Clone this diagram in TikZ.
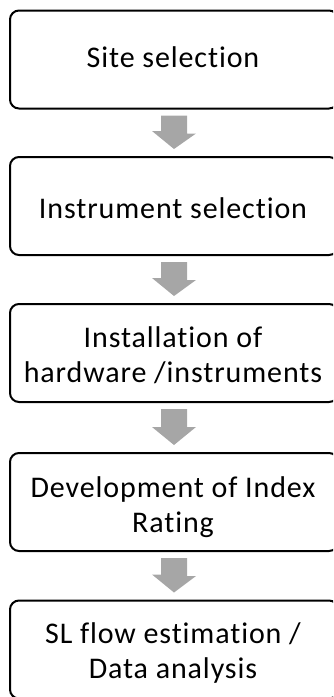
\documentclass[tikz,border=0pt]{standalone}
\usepackage{fontspec}
\setmainfont[Ligatures=NoCommon,LetterSpace=3]{Carlito}
\usetikzlibrary{calc}
\definecolor{arrowgray}{HTML}{A6A6A6}
\tikzset{
  stepbox/.style={draw=black, line width=2pt, rounded corners=9pt, fill=white,
    minimum width=328pt, minimum height=98pt, inner sep=0pt},
  steptext/.style={anchor=north, align=center, inner sep=0pt, text height=20pt,
    font=\fontsize{30}{35}\selectfont},
  downarrow/.style={fill=arrowgray, draw=none}
}
% a thick gray block arrow between two boxes (y grows downwards)
\newcommand{\blockarrow}[2]{%
  \path (#1.south) ++(0,6) coordinate (#1-a);
  \fill[downarrow] (#1-a) ++(-13,0) -- ++(26,0) -- ++(0,18) -- ++(9,0)
    -- ($(#2.north)+(0,-7)$) -- ++(-22,-18) -- ++(9,0) -- cycle;
}
\begin{document}
\begin{tikzpicture}[x=1pt,y=-1pt]
  \useasboundingbox (0,0) rectangle (333,697);
  \clip (0,0) rectangle (333,697);
  % boxes
  \node[stepbox] (s1) at (174,59.5) {};
  \node[stepbox] (s2) at (174,206) {};
  \node[stepbox] (s3) at (174,353) {};
  \node[stepbox] (s4) at (174,502) {};
  \node[stepbox] (s5) at (174,649.5) {};
  % labels (north anchor sits 20pt above the baseline of the last line)
  \node[steptext] (t1) at (173,47) {Site selection};
  \node[steptext] (t2) at (173,198) {Instrument selection};
  \node[steptext] (t3) at (173,362) {Installation of\\hardware /instruments};
  \node[steptext] (t4) at (173,512) {Development of Index\\Rating};
  \node[steptext] (t5) at (173,658) {SL flow estimation /\\Data analysis};
  % arrows
  \blockarrow{s1}{s2}
  \blockarrow{s2}{s3}
  \blockarrow{s3}{s4}
  \blockarrow{s4}{s5}
\end{tikzpicture}
\end{document}
